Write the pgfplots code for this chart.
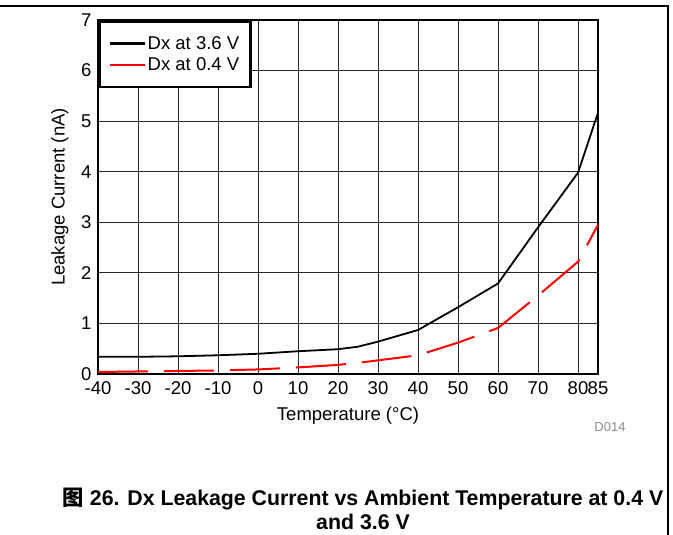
\documentclass[border=0pt]{standalone}
\usepackage{fontspec}
\setmainfont{Liberation Sans}
\newfontfamily\cjk{Noto Sans CJK SC}
\usepackage{pgfplots}
\pgfplotsset{compat=1.18}
\begin{document}
\begin{tikzpicture}[x=1bp,y=1bp]
  \useasboundingbox (0,0) rectangle (673,535);
  % outer figure frame (top and right)
  \draw[line width=1.2bp] (0,529) -- (668,529) -- (668,0);
  \begin{axis}[
      at={(98bp,161bp)}, anchor=south west,
      scale only axis,
      width=500bp, height=354bp,
      xmin=-40, xmax=85, ymin=0, ymax=7,
      xtick={-40,-30,-20,-10,0,10,20,30,40,50,60,70,80,85},
      xticklabels={-40,-30,-20,-10,0,10,20,30,40,50,60,70,80,85},
      ytick={0,1,2,3,4,5,6,7},
      tick label style={font=\fontsize{18.5bp}{21bp}\selectfont},
      /pgf/number format/assume math mode=true,
      label style={font=\fontsize{18.5bp}{21bp}\selectfont},
      xlabel={Temperature (\textdegree C)},
      ylabel={Leakage Current (nA)},
      xlabel style={yshift=-6bp},
      ylabel style={yshift=6bp},
      grid=major,
      major grid style={line width=0.9bp, black!85},
      axis line style={line width=2.6bp},
      major tick length=0pt,
      tick style={draw=none},
      xticklabel style={yshift=-4bp},
      yticklabel style={xshift=-3bp},
      legend style={at={(0,1)}, anchor=north west, draw=black,
        line width=2.6bp, fill=white,
        font=\fontsize{18.5bp}{21bp}\selectfont,
        inner xsep=9bp, inner ysep=13bp, row sep=3bp},
      legend cell align=left,
      legend image code/.code={\draw[#1, line width=2.4bp] (0bp,0bp) -- (35bp,0bp);},
      clip=false,
    ]
    \addplot[black, line width=1.8bp] coordinates {
      (-40,0.34) (-30,0.34) (-20,0.35) (-10,0.37) (0,0.40) (10,0.45)
      (20,0.49) (25,0.54) (30,0.64) (40,0.87) (50,1.32) (60,1.79)
      (70,2.90) (80,3.98) (85,5.17)};
    \addlegendentry{Dx at 3.6 V}
    \addplot[red, line width=2bp, dash pattern=on 50bp off 16bp] coordinates {
      (-40,0.04) (-30,0.05) (-20,0.06) (-10,0.07) (0,0.09) (10,0.13)
      (20,0.18) (25,0.22) (30,0.27) (40,0.37) (50,0.62) (60,0.91)
      (70,1.55) (80,2.22) (85,2.95)};
    \addlegendentry{Dx at 0.4 V}
  \end{axis}
  \node[text=black!45, font=\fontsize{13bp}{15bp}\selectfont] at (610,108) {D014};
  \node[align=center, font=\fontsize{21.3bp}{24bp}\selectfont\bfseries] at (363,26)
    {{\cjk 图} 26. Dx Leakage Current vs Ambient Temperature at 0.4 V\\ and 3.6 V};
\end{tikzpicture}
\end{document}
